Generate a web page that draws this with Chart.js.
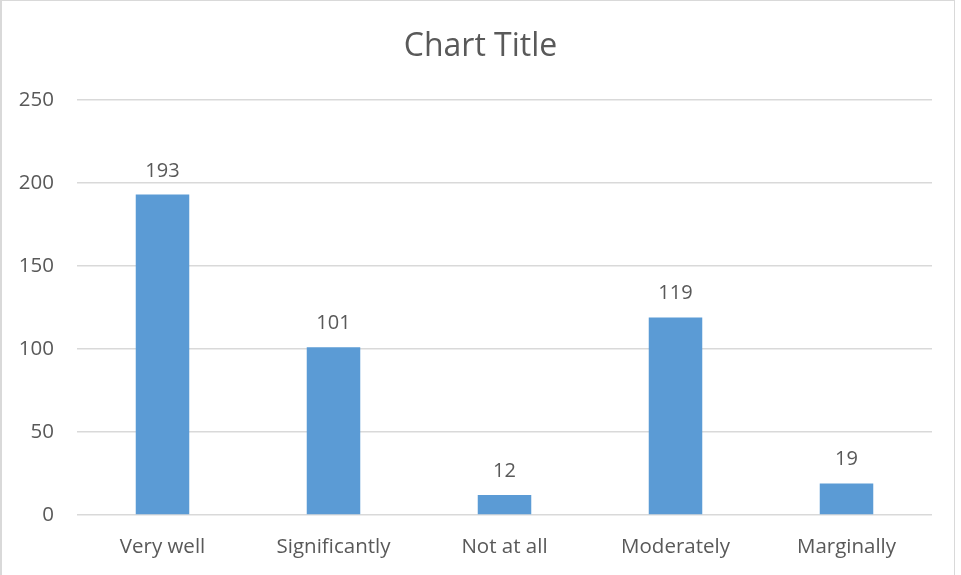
<!DOCTYPE html>
<html>
<head>
<meta charset="utf-8">
<script src="https://cdn.jsdelivr.net/npm/chart.js@4.4.1/dist/chart.umd.min.js"></script>
<style>
    html, body { margin: 0; padding: 0; background: #ffffff; overflow: hidden; }
    #frame {
        position: absolute; left: 0; top: 0; width: 952px; height: 600px;
        border-left: 2px solid #d9d9d9; border-top: 1px solid #d9d9d9; border-right: 1px solid #d9d9d9;
    }
    #wrap { position: absolute; left: 0; top: 0; width: 961px; height: 575px; }
</style>
</head>
<body>
<div id="frame"></div>
<div id="wrap"><canvas id="barChart" width="961" height="575"></canvas></div>
<script>
// chart data
const chartTitle = "Chart Title";
const categories = ["Very well", "Significantly", "Not at all", "Moderately", "Marginally"];
const counts = [193, 101, 12, 119, 19];
const yTicks = [0, 50, 100, 150, 200, 250];

const textColor = "#595959";
const gridColor = "#d9d9d9";
const barColor = "#5b9bd5";
const fontFamily = "'Open Sans', 'Liberation Sans', sans-serif";

// title centred on the whole canvas (like the Excel chart), plus value labels above bars
const extraText = {
    id: "extraText",
    afterDraw(chart) {
        const ctx = chart.ctx;
        ctx.save();
        ctx.fillStyle = textColor;
        ctx.textAlign = "center";

        ctx.font = "32px " + fontFamily;
        ctx.textBaseline = "middle";
        ctx.fillText(chartTitle, chart.width / 2, 47.2);

        ctx.font = "20px " + fontFamily;
        ctx.textBaseline = "alphabetic";
        const meta = chart.getDatasetMeta(0);
        meta.data.forEach((bar, i) => {
            ctx.fillText(String(counts[i]), bar.x, bar.y - 18);
        });
        ctx.restore();
    }
};

const ctx = document.getElementById("barChart").getContext("2d");
new Chart(ctx, {
    type: "bar",
    data: {
        labels: categories,
        datasets: [{
            data: counts,
            backgroundColor: barColor,
            borderWidth: 0,
            categoryPercentage: 1.0,
            barPercentage: 0.313
        }]
    },
    options: {
        responsive: false,
        animation: false,
        layout: { padding: { left: 0, right: 29, top: 100, bottom: 0 } },
        plugins: {
            legend: { display: false },
            tooltip: { enabled: false },
            title: { display: false }
        },
        scales: {
            x: {
                grid: { display: false },
                border: { display: false },
                ticks: {
                    color: textColor,
                    font: { family: fontFamily, size: 20.5 },
                    padding: 12,
                    maxRotation: 0
                },
                afterFit(scale) { scale.height = 60; }
            },
            y: {
                min: 0,
                max: 250,
                grid: { color: gridColor, lineWidth: 1.5, drawTicks: false },
                border: { display: false },
                afterBuildTicks(scale) { scale.ticks = yTicks.map(v => ({ value: v })); },
                ticks: {
                    color: textColor,
                    font: { family: fontFamily, size: 20.5 },
                    padding: 23
                },
                afterFit(scale) { scale.width = 77; }
            }
        }
    },
    plugins: [extraText]
});
</script>
</body>
</html>
